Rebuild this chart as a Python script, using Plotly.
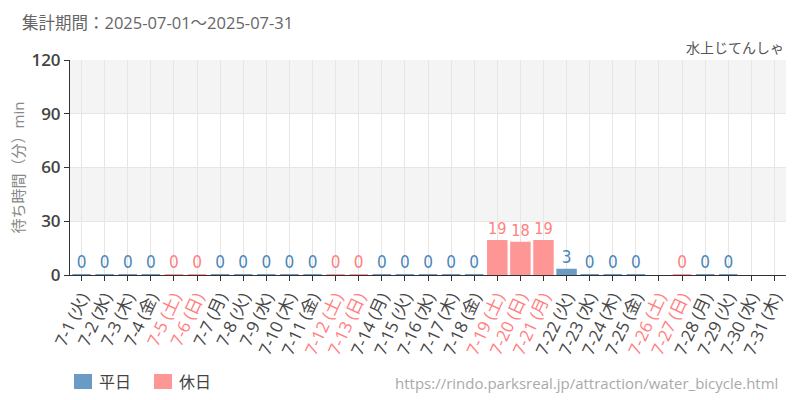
import plotly.graph_objects as go

days = list(range(1, 32))
weekdays = (["火", "水", "木", "金", "土", "日", "月"] * 5)[:31]
holidays = [5, 6, 12, 13, 19, 20, 21, 26, 27]
values = [0, 0, 0, 0, 0, 0, 0, 0, 0, 0, 0, 0, 0, 0, 0, 0, 0, 0,
          19, 18, 19, 3, 0, 0, 0, None, 0, 0, 0, None, None]

WEEK_BAR = "#6a9bc4"
HOLI_BAR = "#ff9696"
WEEK_TXT = "#4a86ba"
HOLI_TXT = "#ff8080"

x = list(range(31))
is_h = [d in holidays for d in days]
bar_colors = [HOLI_BAR if h else WEEK_BAR for h in is_h]
txt_colors = [HOLI_TXT if h else WEEK_TXT for h in is_h]
texts = ["" if v is None else str(v) for v in values]
ticktext = []
for d, w, h in zip(days, weekdays, is_h):
    lab = f"7-{d} ({w})"
    if h:
        lab = f'<span style="color:{HOLI_TXT}">{lab}</span>'
    ticktext.append(lab)

OFF = 8  # page body margin
L, T = 70 - OFF, 60 - OFF
R = 800 - 786 + OFF
B = 400 - 275 + OFF
pw, ph = 800 - L - R, 400 - T - B
def px(xp):
    return (xp - OFF - L) / pw
def py(yp):
    return (400 - B - (yp - OFF)) / ph

fig = go.Figure()
fig.add_trace(go.Bar(
    x=x, y=values, marker=dict(color=bar_colors, line=dict(color=bar_colors, width=2)),
    text=texts, textposition="outside", cliponaxis=False,
    textfont=dict(color=txt_colors, size=17,
                  family="Liberation Sans Narrow, DejaVu Sans Condensed, Arial Narrow"),
    showlegend=False, hoverinfo="skip",
))

shapes = []
for y0, y1 in [(30, 60), (90, 120)]:
    shapes.append(dict(type="rect", xref="paper", yref="y", x0=0, x1=1, y0=y0, y1=y1,
                       fillcolor="#f4f4f4", line=dict(width=0), layer="below"))
for xa, col in [(74, WEEK_BAR), (154, HOLI_BAR)]:
    shapes.append(dict(type="rect", xref="paper", yref="paper", x0=px(xa), x1=px(xa + 18),
                       y0=py(389), y1=py(374), fillcolor=col, line=dict(width=0)))

ann = [
    dict(text="集計期間：2025-07-01～2025-07-31", x=px(20), y=py(22), xref="paper", yref="paper",
         xanchor="left", yanchor="middle", showarrow=False, font=dict(size=16.5, color="#666")),
    dict(text="水上じてんしゃ", x=px(786), y=py(47), xref="paper", yref="paper",
         xanchor="right", yanchor="middle", showarrow=False, font=dict(size=14, color="#555")),
    dict(text="平日", x=px(97), y=py(382), xref="paper", yref="paper",
         xanchor="left", yanchor="middle", showarrow=False, font=dict(size=16, color="#444")),
    dict(text="休日", x=px(177), y=py(382), xref="paper", yref="paper",
         xanchor="left", yanchor="middle", showarrow=False, font=dict(size=16, color="#444")),
    dict(text="https://rindo.parksreal.jp/attraction/water_bicycle.html", x=px(780), y=py(383),
         xref="paper", yref="paper", xanchor="right", yanchor="middle", showarrow=False,
         font=dict(size=15, color="#aaa")),
]

fig.update_layout(
    width=800, height=400, margin=dict(l=L, r=R, t=T, b=B, autoexpand=False),
    paper_bgcolor="white", plot_bgcolor="white",
    font=dict(family="Open Sans, Noto Sans CJK JP, sans-serif"),
    bargap=0.2, shapes=shapes, annotations=ann,
    xaxis=dict(range=[-0.5, 30.5], tickmode="array", tickvals=x, ticktext=ticktext,
               tickangle=-65, tickfont=dict(size=17, color="#474747"), automargin=False,
               showgrid=True, gridcolor="#e6e6e6", ticks="outside", ticklen=5,
               tickcolor="#333", showline=True, linecolor="#333", linewidth=1,
               zeroline=False, fixedrange=True),
    yaxis=dict(range=[0, 120], dtick=30, tickfont=dict(size=17, color="#444", weight=600),
               automargin=False,
               showgrid=True, gridcolor="#e6e6e6", ticks="outside", ticklen=5,
               tickcolor="#333", showline=True, linecolor="#333", linewidth=1,
               zeroline=False,
               title=dict(text="待ち時間（分）min", font=dict(size=15, color="#888"), standoff=12)),
)

fig.write_html("out.html")
